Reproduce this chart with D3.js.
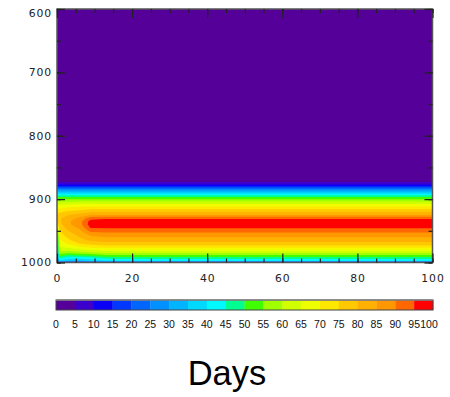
<!DOCTYPE html>
<html>
<head>
<meta charset="utf-8">
<script src="https://cdn.jsdelivr.net/npm/d3@7"></script>
<style>
  html, body { margin: 0; padding: 0; background: #fff; }
  svg { display: block; }
  .tick text { font-family: "DejaVu Sans", sans-serif; font-size: 10.8px; letter-spacing: 0.9px; fill: #222; }
</style>
</head>
<body>
<svg id="chart" width="450" height="397"></svg>
<script>
// Time axis (days) of each sampled profile column
const days = [0, 0.6, 3, 6, 9, 13, 16, 100];
// Depth of each sample row
const depths = [600, 860, 868, 872, 876, 880, 884, 888, 892, 896,
                900, 905, 910, 915, 920, 925, 930, 935, 940, 945, 950,
                955, 960, 965, 970, 975, 980, 985, 990, 995, 998];

// Percent values per day column, one entry per depth above
const profileDay0   = [1, 1, 2, 4, 8, 16, 25, 33, 41, 49, 55, 61, 66, 70, 74, 77, 79, 79, 70, 55, 40, 30, 25, 23, 22, 22, 22, 22, 22, 22, 22];
const profileDay0_6 = [1, 1, 2, 4, 8, 16, 25, 33, 41, 49, 55, 61, 66, 70, 74, 77, 79, 79, 78, 76, 74.5, 73, 71, 69, 67, 65, 62, 58, 51, 43, 36];
const profileDay3   = [1, 1, 2, 4, 8, 16, 25, 33, 41, 49, 55, 61, 67, 72, 76, 80, 83, 84, 84, 82, 80, 78, 76, 74, 71, 67, 62, 56, 47, 38, 33];
const profileDay6   = [1, 1, 2, 4, 8, 16, 25, 33, 41, 49, 55, 62, 68, 73, 77, 82, 86, 88, 88, 86, 84, 82, 80, 78, 75, 70, 64, 57, 48, 38, 33];
const profileDay9   = [1, 1, 2, 4, 8, 16, 25, 33, 41, 49, 55, 62, 68, 74, 79, 85, 93, 97, 97.5, 95.5, 92, 87, 84, 81, 77, 72, 66, 58, 49, 40, 35];
const profileDay13  = [1, 1, 2, 4, 8, 16, 25, 33, 41, 49, 55, 62, 68, 74, 79, 85, 94, 97.5, 98, 95.5, 92.5, 88, 85, 82, 78, 73, 67, 60, 52, 43, 38];
const profileDay16  = [1, 1, 2, 4, 8, 16, 25, 33, 41, 49, 55, 62, 68, 74, 79, 85, 94, 97.5, 98, 95.5, 92.5, 88, 85, 82, 78, 73, 67, 60, 52, 44, 39];
const profileDay100 = [1, 1, 2, 4, 8, 16, 25, 33, 41, 49, 55, 62, 68, 74, 79, 85, 94, 97.5, 98, 95.5, 92.5, 88, 85, 82, 78, 73, 67, 60, 52, 44, 39];
const profiles = [profileDay0, profileDay0_6, profileDay3, profileDay6, profileDay9, profileDay13, profileDay16, profileDay100];

// Contour levels and their fill colours
const levels = [0, 5, 10, 15, 20, 25, 30, 35, 40, 45, 50, 55, 60, 65, 70, 75, 80, 85, 90, 95];
const levelColors = ["#550099", "#3c00cc", "#0a00f5", "#0038ff", "#0066ff", "#0090ff", "#00b4ff", "#00d8ff", "#00f8ff", "#00ff90",
                     "#40ff00", "#a0ff00", "#d0ff00", "#f0ff00", "#ffe800", "#ffc800", "#ffb000", "#ff9800", "#ff6800", "#ff0000"];
const colorbarLabels = ["0", "5", "10", "15", "20", "25", "30", "35", "40", "45", "50", "55", "60", "65", "70", "75", "80", "85", "90", "95", "100"];

const xMajor = [0, 20, 40, 60, 80, 100];
const xMinor = d3.range(0, 101, 5);
const yMajor = [600, 700, 800, 900, 1000];
const yMinor = d3.range(600, 1001, 50);

const svg = d3.select("#chart");
const plot = { left: 57, right: 432.5, top: 9, bottom: 262.5 };

const x = d3.scaleLinear().domain([0, 100]).range([plot.left, plot.right]);
const y = d3.scaleLinear().domain([600, 1000]).range([plot.top, plot.bottom]);

// Grid (col = day, row = depth) flattened row-major for d3.contours
const nx = days.length, ny = depths.length;
const grid = new Array(nx * ny);
for (let j = 0; j < ny; j++) for (let i = 0; i < nx; i++) grid[j * nx + i] = profiles[i][j];

// Map grid-index coordinates onto days/depths (non-uniform spacing)
const dayAt = d3.scaleLinear().domain(d3.range(nx)).range(days).clamp(true);
const depthAt = d3.scaleLinear().domain(d3.range(ny)).range(depths).clamp(true);
const toScreen = d3.geoTransform({
  point(u, v) { this.stream.point(x(dayAt(u - 0.5)), y(depthAt(v - 0.5))); }
});
const path = d3.geoPath(toScreen);

const contours = d3.contours().size([nx, ny]).thresholds(levels)(grid);

const field = svg.append("g");
field.append("rect")
  .attr("x", x(days[0])).attr("y", y(depths[0]))
  .attr("width", x(days[nx - 1]) - x(days[0]))
  .attr("height", y(depths[ny - 1]) - y(depths[0]))
  .attr("fill", levelColors[0]);
field.selectAll("path").data(contours).join("path")
  .attr("d", path)
  .attr("fill", d => levelColors[levels.indexOf(d.value)]);

// Frame
svg.append("rect")
  .attr("x", plot.left).attr("y", plot.top)
  .attr("width", plot.right - plot.left).attr("height", plot.bottom - plot.top)
  .attr("fill", "none").attr("stroke", "#555").attr("stroke-width", 1.5);

function styleAxis(g) {
  g.select(".domain").remove();
  g.selectAll(".tick line").attr("stroke", "#222").attr("stroke-width", 1.2);
}

// Bottom / top axes
svg.append("g").attr("transform", `translate(0,${plot.bottom})`)
  .call(d3.axisBottom(x).tickValues(xMinor).tickSize(-4).tickFormat(""))
  .call(styleAxis);
svg.append("g").attr("transform", `translate(0,${plot.bottom})`)
  .call(d3.axisBottom(x).tickValues(xMajor).tickSize(-9).tickPadding(12).tickFormat(d3.format("d")))
  .call(styleAxis);
svg.append("g").attr("transform", `translate(0,${plot.top})`)
  .call(d3.axisTop(x).tickValues(xMinor).tickSize(-4).tickFormat(""))
  .call(styleAxis);
svg.append("g").attr("transform", `translate(0,${plot.top})`)
  .call(d3.axisTop(x).tickValues(xMajor).tickSize(-9).tickFormat(""))
  .call(styleAxis);

// Left / right axes
svg.append("g").attr("transform", `translate(${plot.left},0)`)
  .call(d3.axisLeft(y).tickValues(yMinor).tickSize(-4).tickFormat(""))
  .call(styleAxis);
const yAxisG = svg.append("g").attr("transform", `translate(${plot.left},0)`)
  .call(d3.axisLeft(y).tickValues(yMajor).tickSize(-8).tickPadding(5).tickFormat(d3.format("d")))
  .call(styleAxis);
yAxisG.selectAll(".tick text").filter(d => d === 600).attr("dy", "0.7em");
svg.append("g").attr("transform", `translate(${plot.right},0)`)
  .call(d3.axisRight(y).tickValues(yMinor).tickSize(-4).tickFormat(""))
  .call(styleAxis);
svg.append("g").attr("transform", `translate(${plot.right},0)`)
  .call(d3.axisRight(y).tickValues(yMajor).tickSize(-8).tickFormat(""))
  .call(styleAxis);

// Colour bar
const cb = { left: 56, right: 433, top: 300, height: 10 };
const cbx = d3.scaleLinear().domain([0, 100]).range([cb.left, cb.right]);
const cbG = svg.append("g");
cbG.selectAll("rect.bin").data(levels).join("rect")
  .attr("class", "bin")
  .attr("x", d => cbx(d)).attr("y", cb.top)
  .attr("width", d => cbx(d + 5) - cbx(d) + 0.3).attr("height", cb.height)
  .attr("fill", (d, i) => levelColors[i]);
cbG.append("rect")
  .attr("x", cb.left).attr("y", cb.top)
  .attr("width", cb.right - cb.left).attr("height", cb.height)
  .attr("fill", "none").attr("stroke", "#444").attr("stroke-width", 1);
cbG.append("line")
  .attr("x1", cb.left).attr("x2", cb.right).attr("y1", cb.top).attr("y2", cb.top)
  .attr("stroke", "#888").attr("stroke-width", 1.5);
cbG.selectAll("text").data(colorbarLabels).join("text")
  .attr("x", (d, i) => cbx(i * 5) - (i === 20 ? 4 : 0))
  .attr("y", 328)
  .attr("text-anchor", "middle")
  .attr("font-family", "Liberation Sans, Arial, sans-serif")
  .attr("font-size", 10.5)
  .attr("fill", "#111")
  .text(d => d);

// Axis title
svg.append("text")
  .attr("x", 227).attr("y", 385)
  .attr("text-anchor", "middle")
  .attr("font-family", "Liberation Sans, Arial, sans-serif")
  .attr("font-size", 34.5)
  .attr("fill", "#000")
  .text("Days");
</script>
</body>
</html>
